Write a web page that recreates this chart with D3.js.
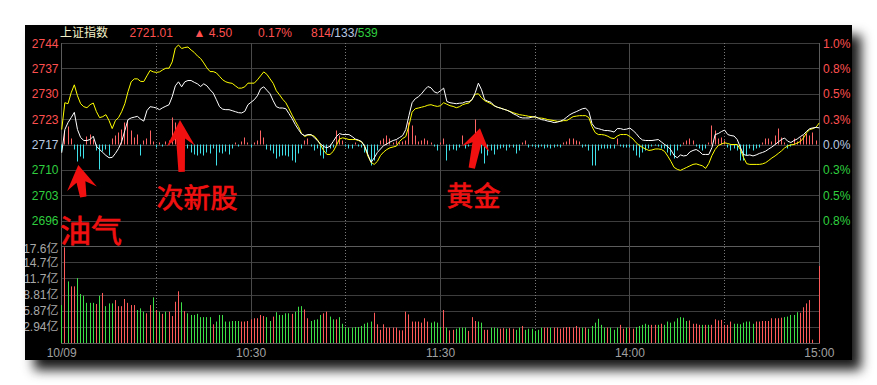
<!DOCTYPE html>
<html><head><meta charset="utf-8">
<script src="https://cdn.jsdelivr.net/npm/d3@7/dist/d3.min.js"></script>
<style>
html,body{margin:0;padding:0;background:#fff;}
svg{display:block}
text{font-family:"Liberation Sans",Arial,sans-serif;}
</style></head><body>
<svg id="c" width="877" height="385"></svg>
<script>
// ---------------- DATA ----------------
const title = "上证指数";
const preClose = 2716.51;
const lastPrice = 2721.01;
const change = "4.50";
const changePct = "0.17%";
const breadth = ["814", "133", "539"];
const priceTickLabels = ["2744","2737","2730","2723","2717","2710","2703","2696"];
const pctTickLabels = ["1.0%","0.8%","0.5%","0.3%","0.0%","0.3%","0.5%","0.8%"];
const volTickLabels = ["2.94亿","5.87亿","8.81亿","11.7亿","14.7亿","17.6亿"];
const volTickValues = [2.94, 5.88, 8.82, 11.76, 14.7, 17.64];
const timeTickMinutes = [0, 60, 120, 180, 240];
const timeTickLabels = ["10/09","10:30","11:30","14:00","15:00"];
const dottedMinutes = [30, 90, 150, 210];

// index (white) line, one value per minute
const indexLine = [
2714.28,2720.55,2722.43,2723.77,2725.20,2720.55,2718.39,2717.59,2717.59,2717.85,
2718.74,2716.05,2715.16,2714.36,2713.55,2712.93,2713.01,2714.09,2715.43,2717.32,
2720.28,2723.24,2723.69,2723.91,2724.12,2723.37,2722.83,2725.66,2726.73,2726.60,
2726.38,2725.93,2726.46,2726.87,2727.27,2729.42,2732.38,2733.46,2732.11,2733.46,
2733.81,2733.81,2733.32,2732.92,2732.19,2732.92,2732.38,2731.31,2730.42,2728.62,
2726.73,2726.06,2725.93,2725.93,2725.66,2725.39,2725.12,2725.04,2725.47,2727.27,
2727.94,2728.62,2729.69,2731.57,2732.11,2731.17,2730.23,2728.35,2726.73,2726.38,
2726.38,2726.19,2724.85,2723.50,2721.89,2720.55,2719.33,2718.93,2719.20,2719.20,
2718.39,2717.59,2716.64,2715.97,2715.62,2716.05,2717.32,2718.66,2719.47,2719.20,
2719.20,2719.20,2718.66,2717.99,2717.72,2717.32,2715.97,2713.82,2711.67,2712.88,
2714.36,2715.30,2716.24,2716.64,2717.18,2717.59,2717.85,2718.39,2718.93,2720.55,
2724.31,2727.81,2728.88,2729.42,2730.23,2731.31,2732.19,2731.84,2730.77,2730.42,
2731.04,2731.76,2728.16,2727.81,2727.67,2727.54,2727.67,2727.73,2728.08,2728.08,
2728.62,2730.50,2733.10,2731.31,2728.62,2728.21,2727.94,2727.00,2726.60,2726.33,
2726.06,2725.79,2725.39,2724.85,2724.45,2723.91,2723.69,2723.69,2723.69,2723.91,
2724.04,2723.64,2723.24,2723.10,2722.83,2722.70,2722.43,2722.56,2722.83,2723.24,
2723.91,2724.58,2725.04,2725.39,2725.79,2726.19,2726.33,2725.39,2722.16,2721.00,
2720.81,2720.55,2720.28,2720.28,2720.14,2719.87,2720.81,2720.81,2720.55,2720.68,
2720.95,2720.28,2719.47,2718.39,2717.72,2717.59,2717.59,2717.59,2717.72,2717.85,
2717.18,2716.51,2715.97,2715.03,2713.55,2712.93,2713.69,2713.42,2713.55,2714.49,
2714.90,2715.16,2714.63,2713.82,2713.82,2713.82,2715.70,2719.20,2719.47,2720.01,
2720.41,2719.20,2718.93,2718.80,2717.85,2715.70,2713.82,2713.55,2713.69,2713.42,
2713.69,2714.09,2714.36,2714.71,2715.30,2715.84,2716.51,2717.18,2717.85,2718.26,
2717.40,2717.05,2717.59,2717.99,2718.66,2719.20,2720.09,2720.81,2721.00,2721.14,
2721.01];

// equal-weight (yellow) line
const avgLine = [
2720.55,2727.81,2727.54,2730.50,2732.65,2729.69,2727.54,2726.73,2726.46,2727.27,
2727.73,2725.39,2723.77,2724.04,2724.58,2722.97,2720.81,2722.97,2723.77,2725.39,
2727.54,2730.77,2733.46,2734.26,2734.26,2733.59,2733.54,2735.07,2736.55,2736.15,
2736.01,2736.15,2736.69,2737.14,2737.14,2738.84,2742.60,2743.41,2742.47,2742.74,
2742.87,2742.07,2741.40,2740.45,2739.78,2738.57,2737.22,2736.23,2736.23,2735.88,
2734.94,2734.00,2733.46,2733.19,2733.05,2732.38,2731.76,2731.76,2732.11,2733.10,
2733.10,2733.10,2734.00,2735.07,2736.15,2735.48,2734.26,2733.05,2731.04,2729.96,
2728.75,2727.81,2726.19,2724.45,2722.83,2721.35,2719.47,2718.66,2719.07,2719.07,
2718.80,2717.85,2716.38,2714.90,2713.82,2713.82,2714.63,2716.24,2717.99,2718.31,
2718.12,2717.85,2717.85,2717.85,2717.59,2717.18,2715.97,2713.36,2711.67,2711.13,
2711.94,2713.55,2714.49,2715.16,2715.62,2715.84,2716.05,2717.32,2718.12,2718.66,
2721.62,2725.25,2726.19,2726.38,2726.60,2726.81,2727.14,2727.27,2727.00,2726.81,
2727.00,2727.81,2727.40,2727.00,2726.81,2726.46,2726.73,2727.27,2727.54,2727.73,
2728.75,2730.09,2730.23,2729.15,2728.35,2727.94,2727.54,2727.00,2726.60,2726.38,
2726.06,2725.79,2725.47,2725.12,2724.85,2724.58,2724.45,2724.31,2724.12,2724.04,
2723.91,2723.69,2723.64,2723.50,2723.24,2723.10,2722.97,2722.78,2722.78,2722.97,
2722.97,2723.50,2724.04,2724.18,2724.31,2724.31,2724.31,2723.77,2721.35,2719.74,
2719.20,2719.20,2719.07,2718.74,2718.26,2718.12,2718.80,2719.20,2719.20,2719.20,
2718.66,2717.99,2716.97,2716.24,2715.70,2715.30,2714.90,2715.03,2715.30,2715.30,
2715.16,2714.63,2713.36,2711.94,2710.32,2709.79,2709.52,2709.92,2710.32,2710.73,
2711.13,2711.27,2711.00,2710.73,2710.05,2711.40,2713.55,2715.16,2716.24,2716.64,
2716.97,2716.78,2716.51,2716.51,2716.51,2715.16,2713.01,2711.32,2711.13,2711.13,
2711.13,2711.13,2711.27,2711.59,2712.21,2712.88,2713.42,2714.09,2714.76,2715.57,
2716.11,2716.43,2716.51,2716.91,2717.32,2718.31,2719.74,2720.55,2720.81,2721.22,
2722.35];

// buy/sell strength bars (red up / cyan down)
const strength = [
-7,13,18,6,-5,-17,-12,-14,8,10,
5,-6,-25,-7,-5,-11,6,9,12,15,
22,24,14,7,10,-11,4,6,14,3,
-3,2,-2,3,4,27,22,14,7,4,
-4,-8,-10,-11,-9,-11,-8,-9,-4,-21,
-8,-9,-7,-10,-4,2,-2,3,7,2,
-3,2,4,14,7,-5,-6,-9,-14,-12,
-11,-11,-12,-16,-18,-9,-4,4,6,-2,
-6,-4,-11,-14,-8,-4,-3,14,9,4,
-2,-4,-4,2,-2,-3,-8,-11,-21,-16,
-6,4,6,9,6,2,4,2,3,4,
22,19,9,3,4,6,4,2,-2,-6,
2,6,-16,-6,-5,-6,-3,9,-4,-2,
-3,25,-6,-9,-19,-11,-6,-10,-5,-4,
-3,-6,-3,-3,-9,-6,2,4,-3,-2,
-3,-3,-2,-4,-3,-4,-3,-2,-3,2,
3,6,6,4,3,-3,-2,-6,-21,-21,
-6,-4,-4,-4,-4,-4,6,-2,-3,-3,
-3,-6,-11,-13,-8,-6,-4,-2,-1,-2,
-4,-4,-8,-11,-14,-6,-2,2,4,6,
4,-2,-4,-6,-4,2,19,14,6,7,
4,-3,-6,-4,-6,-16,-16,-11,-4,-6,
-4,-3,2,6,6,3,9,16,7,2,
-4,-2,6,3,7,9,11,9,12,4,
0];

// volume per minute (亿) and direction (r = up, g = down)
const volume = [
6.9,17.4,11.2,10.3,10.3,11.8,8.9,8.6,7.3,7.3,
7.3,7.1,8.6,9.1,6.7,7.2,7.2,7.8,6.7,6.7,
8.0,7.3,6.9,6.9,6.0,6.3,5.7,5.4,6.9,8.3,
6.0,5.7,5.3,5.7,5.7,4.9,7.5,9.4,7.4,5.8,
5.4,5.1,5.1,5.3,4.7,4.7,4.7,4.7,3.4,3.9,
5.1,5.1,3.9,3.9,4.0,4.0,4.0,3.9,3.9,4.0,
4.3,4.5,4.5,5.1,4.9,4.7,4.0,4.8,5.6,5.1,
5.1,5.4,5.4,5.3,5.7,6.6,6.7,6.1,4.5,4.0,
4.2,4.3,5.1,5.4,5.7,4.8,4.3,4.3,4.7,3.5,
2.9,2.8,2.8,2.9,2.9,3.1,3.5,3.7,3.9,5.5,
3.4,2.4,3.4,2.8,2.8,2.8,2.8,2.3,2.3,5.7,
5.2,3.9,3.9,3.9,3.7,4.5,3.9,3.7,3.9,3.7,
2.9,6.0,2.8,2.3,2.4,2.6,2.8,2.8,2.8,2.2,
4.7,4.0,3.9,3.7,2.4,2.4,2.8,2.8,2.7,2.6,
2.7,2.6,2.7,2.6,2.4,2.8,3.1,2.4,2.6,2.6,
2.2,2.4,2.8,2.8,2.8,2.8,2.8,2.8,2.6,2.8,
2.9,2.9,2.8,3.1,2.8,2.8,2.8,2.6,3.1,3.7,
4.4,3.3,2.8,2.8,2.8,2.4,2.8,3.3,2.6,2.8,
2.8,2.6,2.9,3.1,3.3,3.5,3.3,3.3,3.3,3.3,
3.5,3.3,3.9,3.7,3.9,4.5,4.7,4.6,4.0,4.1,
3.5,3.5,3.3,3.3,3.3,3.3,3.3,4.3,4.1,4.2,
3.3,3.3,3.9,3.5,3.5,3.4,3.7,3.9,3.9,3.5,
3.9,3.9,4.0,4.0,4.0,4.5,4.5,4.5,4.6,4.7,
4.8,5.1,5.1,5.6,5.5,6.5,7.2,7.8,0.6,0,
14.0];
const volumeDir = (
"grgrrggggg"+"grgrgggrrr"+"rrrrgggrrg"+"rgrgrrrrgr"+"ggggggggrg"+
"gggggggrrr"+"rrrrrggrgg"+"gggrgggrrg"+"gggrrggrgg"+"gggggggggr"+
"rrrrrrrrrr"+"rrrrrrrggg"+"grgrrggggr"+"rrggrrgggr"+"rgrrggrggg"+
"gggrrgrrrr"+"rrrrrgrggg"+"gggrgggrrg"+"rrgggggrrg"+"rggggggggrg".slice(0,10)+
"rrrgrgrrrr"+"rrrggggggg"+"rrrrrrrrrg"+"ggggrrrrrr"+"r").split("");

// hand-drawn annotations (anchored in data space: minute, price)
const annotations = [
  {label:"油气",  textMinute:-0.55, textPrice:2690.1, size:31, tip:[5.26,2710.97], tail:[6.84,2702.3], head:24, half:15},
  {label:"次新股",textMinute:30.0,  textPrice:2699.3, size:27, tip:[37.47,2723.14], tail:[38.0,2709.1], head:26, half:14},
  {label:"黄金",  textMinute:121.9, textPrice:2699.9, size:27, tip:[132.5,2720.9], tail:[129.9,2710.1], head:21, half:14}
];

// ---------------- CHART ----------------
const svg = d3.select("#c");
const defs = svg.append("defs");
const flt = defs.append("filter").attr("id","sh").attr("x","-5%").attr("y","-5%").attr("width","115%").attr("height","125%");
flt.append("feDropShadow").attr("dx",9).attr("dy",10).attr("stdDeviation",6).attr("flood-color","#000").attr("flood-opacity",0.9);
defs.append("clipPath").attr("id","pclip").append("rect").attr("x",25).attr("y",25).attr("width",827).attr("height",335);

svg.append("rect").attr("x",25).attr("y",25).attr("width",827).attr("height",335).attr("fill","#050505").attr("filter","url(#sh)");
const g = svg.append("g").attr("clip-path","url(#pclip)");

const RED="#ff5050", GREEN="#2fcf3f", NEUTRAL="#b8c8e0";
const step = (2743.96 - preClose)/4;
const x = d3.scaleLinear().domain([0,240]).range([61.7,819.3]);
const yP = d3.scaleLinear().domain([preClose-4*step, preClose+4*step]).range([246,43]);
const yS = d3.scaleLinear().domain([-101.5,101.5]).range([246,43]);
const yV = d3.scaleLinear().domain([0,17.64]).range([343,246]);
const cx = m => Math.floor(x(m))+0.5;
const cy = v => Math.round(v)+0.5;

// grid
const grid = g.append("g");
const priceLevels = d3.range(4,-4,-1).map(k=>preClose+k*step);
grid.selectAll(".hp").data(priceLevels).join("line")
  .attr("x1",61).attr("x2",820).attr("y1",d=>cy(yP(d))).attr("y2",d=>cy(yP(d)))
  .attr("stroke","#3d3d3d");
grid.selectAll(".hv").data(volTickValues.slice(0,5)).join("line")
  .attr("x1",61).attr("x2",820).attr("y1",d=>cy(yV(d))).attr("y2",d=>cy(yV(d)))
  .attr("stroke","#3d3d3d");
[yV(17.64), yV(0)].forEach(v=>grid.append("line").attr("x1",61).attr("x2",820).attr("y1",cy(v)).attr("y2",cy(v)).attr("stroke","#5c5c5c"));
grid.selectAll(".vs").data([60,120,180]).join("line")
  .attr("x1",d=>cx(d)).attr("x2",d=>cx(d)).attr("y1",43).attr("y2",343).attr("stroke","#4a4a4a");
grid.selectAll(".vd").data(dottedMinutes).join("line")
  .attr("x1",d=>cx(d)).attr("x2",d=>cx(d)).attr("y1",43).attr("y2",343)
  .attr("stroke","#7a7a7a").attr("stroke-dasharray","1,2");
[0,240].forEach(m=>grid.append("line").attr("x1",cx(m)).attr("x2",cx(m)).attr("y1",43).attr("y2",343).attr("stroke","#5c5c5c"));

// strength bars
g.append("g").selectAll("line").data(strength.map((v,i)=>({i,v})).filter(d=>d.v!==0)).join("line")
  .attr("x1",d=>cx(d.i)).attr("x2",d=>cx(d.i))
  .attr("y1",yS(0)).attr("y2",d=>yS(d.v))
  .attr("stroke",d=>d.v>0?"#ff6464":"#3fe0e8").attr("stroke-width",1);

// volume bars
g.append("g").selectAll("line").data(volume.map((v,i)=>({i,v,d:volumeDir[i]})).filter(d=>d.v>0)).join("line")
  .attr("x1",d=>cx(d.i)).attr("x2",d=>cx(d.i))
  .attr("y1",yV(0)).attr("y2",d=>yV(d.v))
  .attr("stroke",d=>d.d==="r"?"#ff5a5a":"#3ee048").attr("stroke-width",1);

// lines
const line = d3.line().x((d,i)=>x(i)).y(d=>yP(d));
g.append("path").datum(avgLine).attr("d",line).attr("fill","none").attr("stroke","#ffff00").attr("stroke-width",1);
g.append("path").datum(indexLine).attr("d",line).attr("fill","none").attr("stroke","#ffffff").attr("stroke-width",1);

// left price labels & right pct labels
const lab = g.append("g").attr("font-size",12);
priceLevels.forEach((p,i)=>{
  const col = i<4?RED:(i===4?NEUTRAL:GREEN);
  lab.append("text").attr("x",58.5).attr("y",yP(p)+4.5).attr("text-anchor","end").attr("fill",col).text(priceTickLabels[i]);
  lab.append("text").attr("x",823).attr("y",yP(p)+4.5).attr("fill",col).text(pctTickLabels[i]);
});
volTickValues.forEach((v,i)=>{
  const yy = i===5 ? yV(v)+6.5 : yV(v)+4.5;
  lab.append("text").attr("x",58.5).attr("y",yy).attr("text-anchor","end").attr("fill","#a8a8a8")
    .style("font-family","'Liberation Sans','Noto Sans CJK SC',sans-serif").text(volTickLabels[i]);
});
timeTickMinutes.forEach((m,i)=>{
  lab.append("text").attr("x",x(m)).attr("y",356.5).attr("text-anchor","middle").attr("fill","#a0a0a0").text(timeTickLabels[i]);
});

// title row
const t = g.append("text").attr("y",36.5).attr("font-size",12);
t.append("tspan").attr("x",60).attr("fill","#f2f0c8").style("font-family","'Noto Sans CJK SC',sans-serif").text(title);
t.append("tspan").attr("x",129.5).attr("fill",RED).text(lastPrice.toFixed(2));
t.append("tspan").attr("x",193.5).attr("fill",RED).text("▲ "+change);
t.append("tspan").attr("x",258).attr("fill",RED).text(changePct);
const b = g.append("text").attr("x",311).attr("y",36.5).attr("font-size",12);
b.append("tspan").attr("fill",RED).text(breadth[0]);
b.append("tspan").attr("fill",NEUTRAL).text("/"+breadth[1]+"/");
b.append("tspan").attr("fill",GREEN).text(breadth[2]);

// annotations
const ANN="#f01010";
annotations.forEach(a=>{
  const tx=x(a.tip[0]), ty=yP(a.tip[1]), bx=x(a.tail[0]), by=yP(a.tail[1]);
  const L=Math.hypot(bx-tx,by-ty), ux=(bx-tx)/L, uy=(by-ty)/L, px=-uy, py=ux;
  const P=(along,side)=>[tx+ux*along+px*side, ty+uy*along+py*side];
  const pts=[P(0,0),P(a.head,a.half),P(a.head*0.72,4.5),P(L,3.2),P(L,-3.2),P(a.head*0.72,-4.5),P(a.head,-a.half)];
  g.append("path").attr("d","M"+pts.map(p=>p.join(",")).join("L")+"Z").attr("fill",ANN);
  g.append("text").attr("x",x(a.textMinute)).attr("y",yP(a.textPrice)).attr("font-size",a.size)
    .attr("fill",ANN).attr("stroke",ANN).attr("stroke-width",0.7)
    .style("font-family","'Noto Sans CJK SC',sans-serif").text(a.label);
});
</script>
</body></html>
